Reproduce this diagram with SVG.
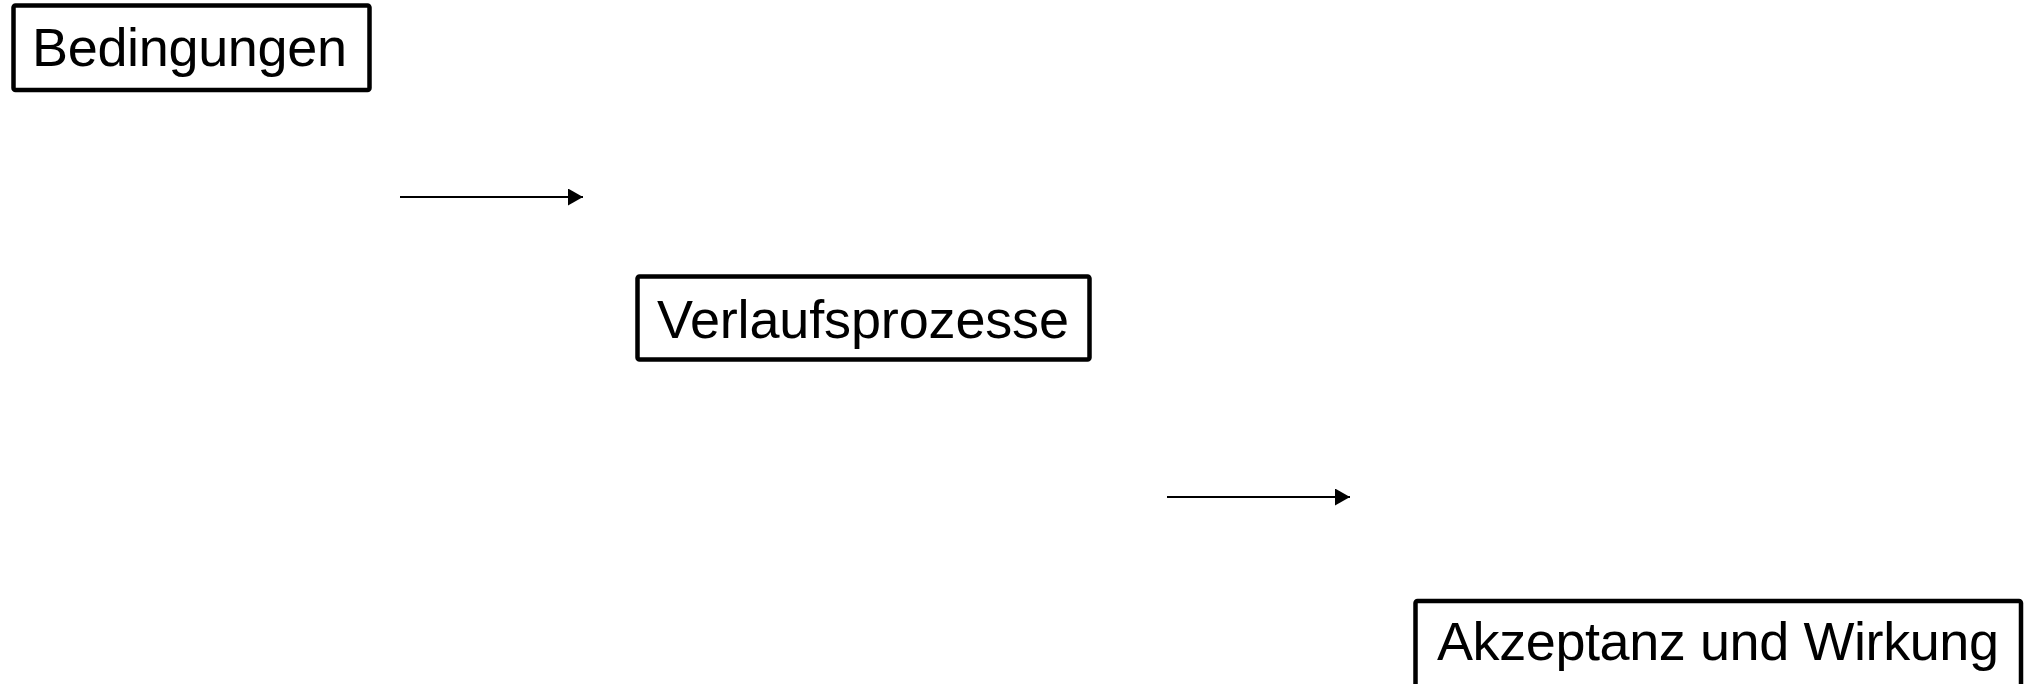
<svg xmlns="http://www.w3.org/2000/svg" width="2024" height="684" viewBox="0 0 2024 684">
<style>
.box{fill:#fff;stroke:#000;stroke-width:4.5;}
.lbl{font-family:"Liberation Sans",Arial,sans-serif;font-size:54px;fill:#000;}
.conn{stroke:#000;stroke-width:2;fill:none;}
</style>
<defs>
<marker id="ah" markerUnits="userSpaceOnUse" markerWidth="16" markerHeight="17" refX="15" refY="8.5" orient="auto">
<path d="M0,0 L15,8.5 L0,17 Z" fill="#000"/>
</marker>
</defs>
<rect width="2024" height="684" fill="#fff"/>
<g id="connectors">
<line class="conn" x1="400" y1="197" x2="583" y2="197" marker-end="url(#ah)"/>
<line class="conn" x1="1167" y1="497" x2="1350" y2="497" marker-end="url(#ah)"/>
</g>
<g id="node-bedingungen">
<rect class="box" x="13.5" y="5.5" width="356" height="84.5" rx="2"/>
<text class="lbl" x="32" y="66" textLength="315">Bedingungen</text>
</g>
<g id="node-verlaufsprozesse">
<rect class="box" x="637.5" y="276.5" width="452" height="83" rx="2"/>
<text class="lbl" x="657" y="338" textLength="412">Verlaufsprozesse</text>
</g>
<g id="node-akzeptanz">
<rect class="box" x="1415.5" y="601" width="605.5" height="90" rx="2"/>
<text class="lbl" x="1437" y="660" textLength="562">Akzeptanz und Wirkung</text>
</g>
</svg>
